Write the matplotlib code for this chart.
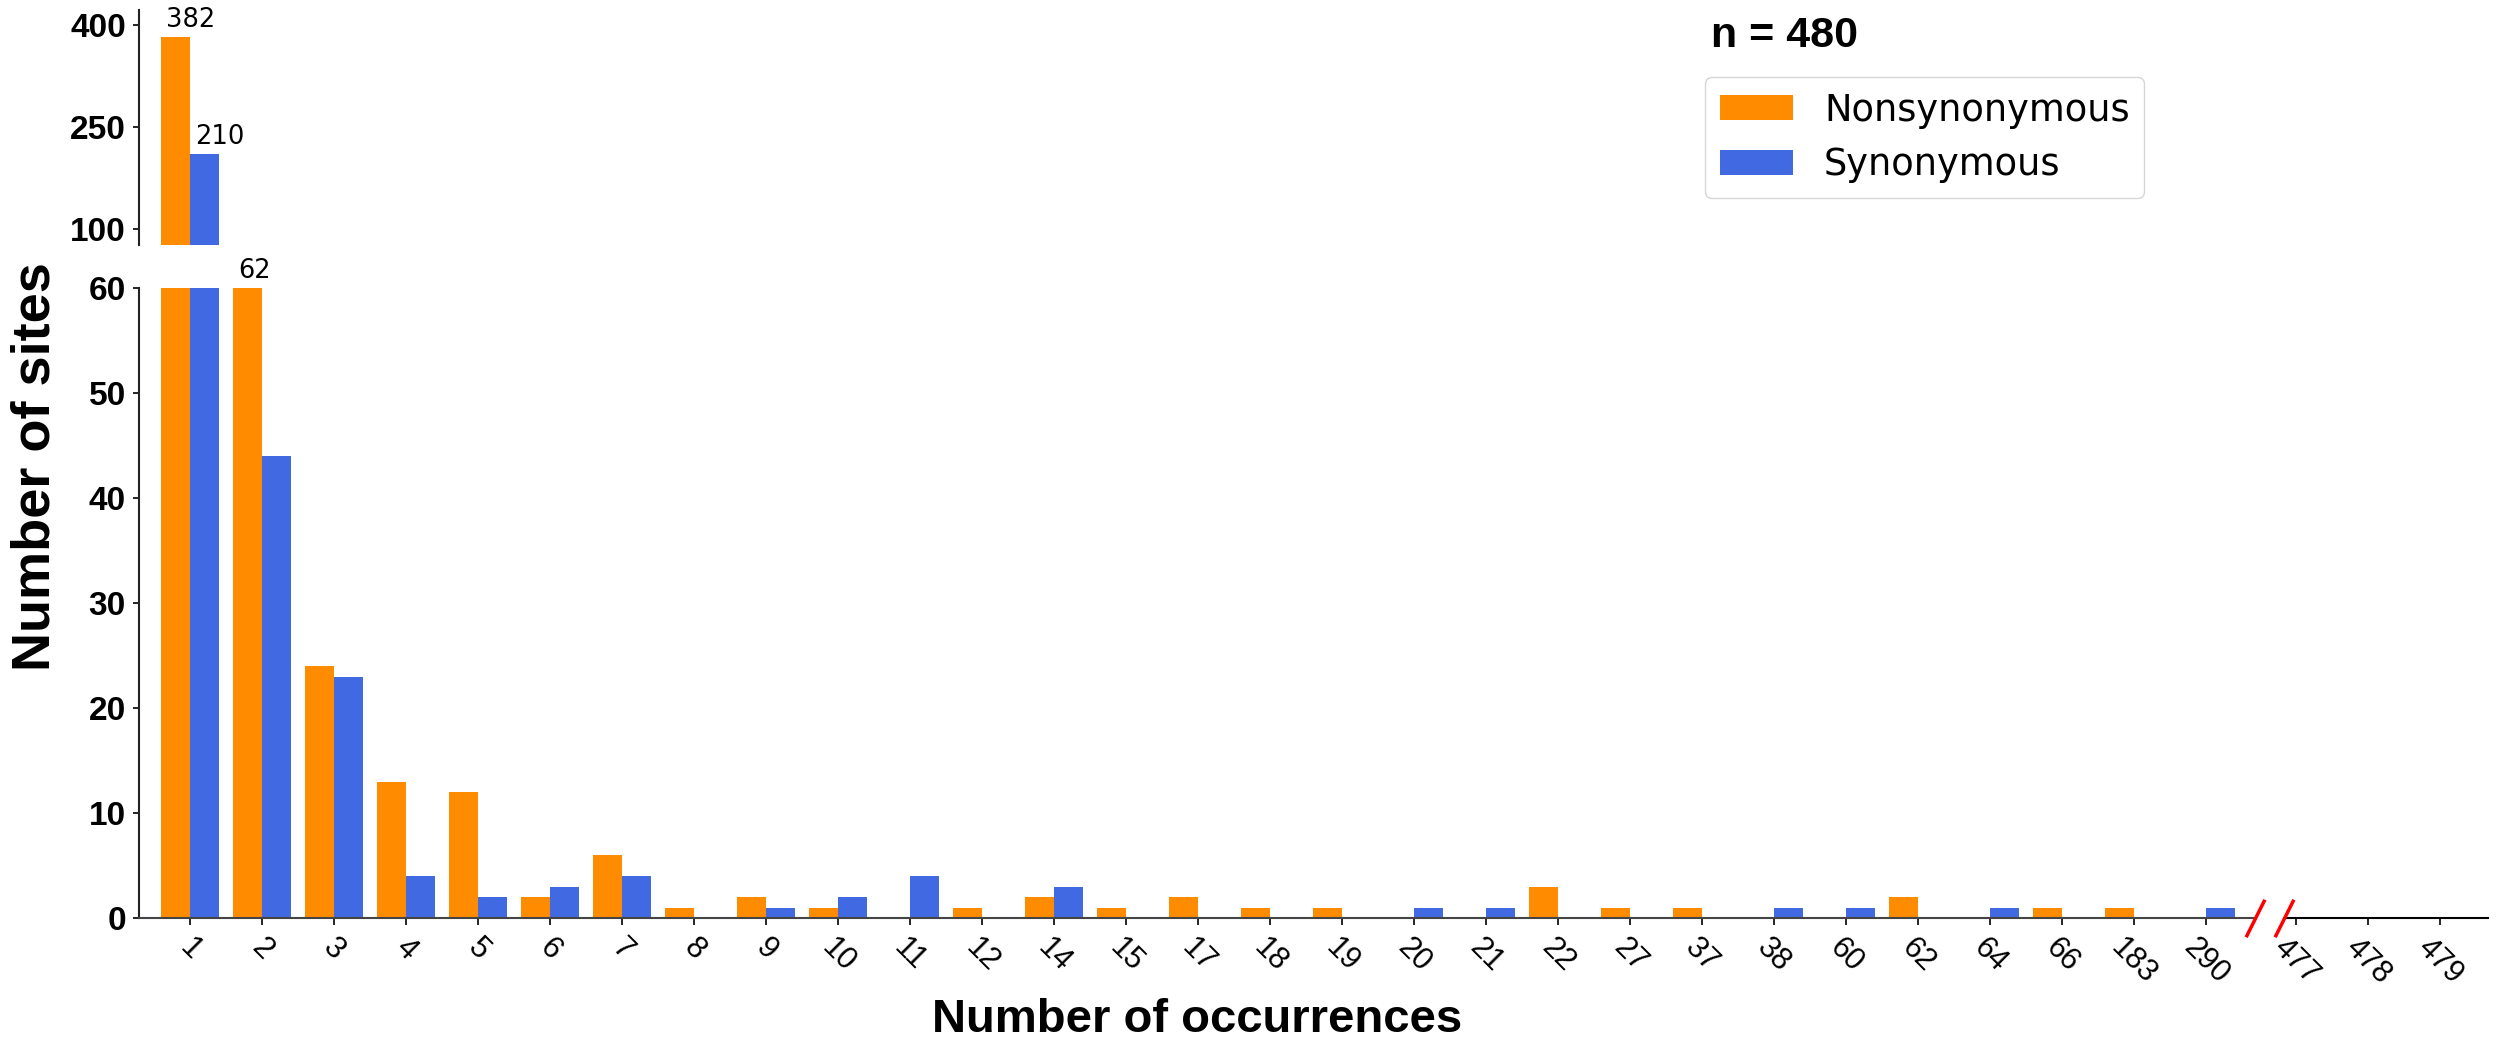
import numpy as np
import matplotlib.pyplot as plt

# number of occurrences (x categories) and site counts per category
occurrences = ['1', '2', '3', '4', '5', '6', '7', '8', '9', '10', '11', '12', '14', '15',
               '17', '18', '19', '20', '21', '22', '27', '37', '38', '60', '62', '64',
               '66', '183', '290', '477', '478', '479']
nonsyn = [382, 62, 24, 13, 12, 2, 6, 1, 2, 1, 0, 1, 2, 1,
          2, 1, 1, 0, 0, 3, 1, 1, 0, 0, 2, 0,
          1, 1, 0, 0, 0, 0]
syn = [210, 44, 23, 4, 2, 3, 4, 0, 1, 2, 4, 0, 3, 0,
       0, 0, 0, 1, 1, 0, 0, 0, 1, 1, 0, 1,
       0, 0, 1, 0, 0, 0]
n_total = 480
break_after = '290'

orange = '#ff8c00'
blue = '#4169e1'

plt.rcParams['font.family'] = 'Liberation Sans'

fig = plt.figure(figsize=(25.01, 10.41), dpi=100)
ax_top = fig.add_axes([0.0556, 0.7646, 0.9392, 0.2258])
ax = fig.add_axes([0.0556, 0.1177, 0.9392, 0.6057], sharex=ax_top)

k = occurrences.index(break_after) + 1
pos = np.arange(len(occurrences), dtype=float)
pos[k:] += 0.25
w = 0.4

for a in (ax_top, ax):
    a.bar(pos - w / 2, nonsyn, w, color=orange, label='Nonsynonymous')
    a.bar(pos + w / 2, syn, w, color=blue, label='Synonymous')

top_lim = (77, 422)
low_lim = (0, 60)
xlim = (-0.708, 31.92)

ax_top.set_ylim(*top_lim)
ax_top.set_yticks([100, 250, 400])
ax.set_ylim(*low_lim)
ax.set_yticks(range(0, 61, 10))
ax.set_xlim(*xlim)

for s in ['top', 'right', 'bottom']:
    ax_top.spines[s].set_visible(False)
ax_top.tick_params(axis='x', bottom=False, labelbottom=False)
for s in ['top', 'right']:
    ax.spines[s].set_visible(False)

for a in (ax_top, ax):
    a.spines['left'].set_linewidth(1.5)
    a.spines['left'].set_color('#222222')
    a.tick_params(axis='y', length=4.5, width=1.2, pad=5, labelsize=24)
    for lab in a.get_yticklabels():
        lab.set_fontweight('bold')

ax.set_xticks(pos, occurrences, rotation=-45, fontsize=22)
ax.tick_params(axis='x', length=5, width=1.2, pad=5)

# broken x axis: spine stops before the gap, second piece after it
gap_left = pos[k - 1] + 0.69
gap_right = pos[k] - 0.16
ax.spines['bottom'].set_bounds(xlim[0], gap_left)
ax.spines['bottom'].set_color('#444444')
ax.spines['bottom'].set_linewidth(1.5)
tr = ax.get_xaxis_transform()
ax.plot([gap_right, xlim[1]], [0, 0], color='black', lw=1.5, transform=tr, clip_on=False)
ax.plot([gap_left, gap_right], [0, 0], transform=tr, marker=[(-1, -2), (1, 2)],
        markersize=27, mew=2.5, color='red', linestyle='none', clip_on=False, zorder=5)

# value labels for bars that run past the lower axis
for i in range(len(occurrences)):
    for v, left in ((nonsyn[i], pos[i] - w), (syn[i], pos[i])):
        if v <= low_lim[1]:
            continue
        if v > top_lim[0]:
            tgt, yv = ax_top, v
        else:
            tgt, yv = ax, low_lim[1]
        tgt.annotate(str(v), xy=(left, yv), xytext=(3.5, 3), textcoords='offset points',
                     ha='left', va='bottom', fontsize=18.5, family='DejaVu Sans',
                     annotation_clip=False)

fig.text(1197 / 2501, 9 / 1041, 'Number of occurrences', ha='center', va='baseline',
         fontsize=34, fontweight='bold')
fig.text(36 / 2501, 1 - 466.5 / 1041, 'Number of sites', rotation=90, ha='center',
         va='center', fontsize=39, fontweight='bold')
fig.text(1711 / 2501, 1 - 47 / 1041, f'n = {n_total}', ha='left', va='baseline',
         fontsize=31, fontweight='bold')

handles, labels = ax_top.get_legend_handles_labels()
fig.legend(handles, labels, loc='upper left', bbox_to_anchor=(1705 / 2501, 1 - 77 / 1041),
           prop={'family': 'DejaVu Sans', 'size': 26.5}, handlelength=1.98, handleheight=0.68,
           handletextpad=0.85, borderpad=0.4, labelspacing=0.48, borderaxespad=0)

fig.savefig('out.png', dpi=100)
